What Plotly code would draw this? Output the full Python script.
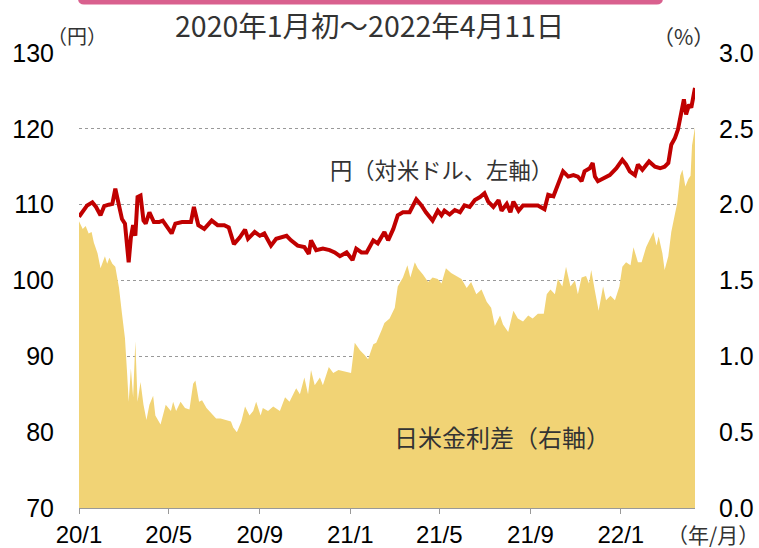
import plotly.graph_objects as go

# USD/JPY (left axis, yen)
fx_dates = [
    "2020-01-01", "2020-01-06", "2020-01-12", "2020-01-19", "2020-01-24", "2020-01-30",
    "2020-02-04", "2020-02-10", "2020-02-15", "2020-02-19", "2020-02-24", "2020-02-28",
    "2020-03-03", "2020-03-08", "2020-03-11", "2020-03-14", "2020-03-17", "2020-03-20",
    "2020-03-24", "2020-03-28", "2020-03-31", "2020-04-05", "2020-04-11", "2020-04-18",
    "2020-04-23", "2020-04-29", "2020-05-05", "2020-05-10", "2020-05-19", "2020-05-31",
    "2020-06-04", "2020-06-10", "2020-06-18", "2020-06-28", "2020-07-06", "2020-07-15",
    "2020-07-21", "2020-07-28", "2020-08-05", "2020-08-12", "2020-08-16", "2020-08-25",
    "2020-09-01", "2020-09-07", "2020-09-16", "2020-09-23", "2020-10-07", "2020-10-13",
    "2020-10-22", "2020-10-31", "2020-11-06", "2020-11-09", "2020-11-16", "2020-11-25",
    "2020-12-04", "2020-12-11", "2020-12-18", "2020-12-27", "2021-01-04", "2021-01-09",
    "2021-01-16", "2021-01-23", "2021-02-01", "2021-02-07", "2021-02-14", "2021-02-16",
    "2021-02-21", "2021-02-28", "2021-03-06", "2021-03-13", "2021-03-22", "2021-03-31",
    "2021-04-07", "2021-04-13", "2021-04-22", "2021-04-29", "2021-05-04", "2021-05-08",
    "2021-05-15", "2021-05-22", "2021-05-29", "2021-06-04", "2021-06-11", "2021-06-18",
    "2021-06-25", "2021-07-01", "2021-07-06", "2021-07-13", "2021-07-20", "2021-07-24",
    "2021-07-31", "2021-08-05", "2021-08-09", "2021-08-16", "2021-08-22", "2021-09-02",
    "2021-09-11", "2021-09-20", "2021-09-25", "2021-10-02", "2021-10-08", "2021-10-15",
    "2021-10-22", "2021-10-29", "2021-11-04", "2021-11-09", "2021-11-13", "2021-11-20",
    "2021-11-24", "2021-11-27", "2021-12-01", "2021-12-08", "2021-12-17", "2021-12-26",
    "2022-01-03", "2022-01-08", "2022-01-13", "2022-01-20", "2022-01-24", "2022-01-30",
    "2022-02-08", "2022-02-16", "2022-02-23", "2022-03-01", "2022-03-06", "2022-03-10",
    "2022-03-15", "2022-03-19", "2022-03-24", "2022-03-27", "2022-03-30", "2022-04-03",
    "2022-04-06", "2022-04-11",
]
fx_values = [
    108.4, 109.0, 109.9, 110.3, 109.7, 108.6,
    109.8, 110.0, 110.1, 112.1, 110.1, 108.1,
    107.5, 102.4, 105.7, 107.3, 105.9, 111.0,
    111.2, 107.9, 107.5, 109.0, 107.7, 107.7,
    107.9, 107.0, 106.2, 107.5, 107.7, 107.7,
    109.7, 107.3, 106.8, 107.9, 107.3, 107.3,
    107.0, 104.8, 105.7, 106.7, 105.5, 106.4,
    105.9, 106.2, 104.6, 105.5, 105.9, 105.3,
    104.6, 104.4, 103.5, 105.3, 104.0, 104.2,
    104.0, 103.7, 103.2, 103.7, 102.7, 104.2,
    103.7, 103.7, 105.3, 104.9, 105.9, 106.4,
    105.3, 106.8, 108.6, 109.0, 109.0, 110.7,
    109.9, 109.0, 107.9, 109.2, 108.6, 109.2,
    108.7, 109.3, 109.0, 109.9, 109.7, 110.6,
    111.0, 111.5, 110.4, 109.7, 110.6, 109.2,
    110.1, 109.0, 110.4, 109.2, 109.9, 109.9,
    109.9, 109.4, 111.3, 111.1, 112.8, 114.4,
    113.7, 113.9, 113.7, 113.1, 114.4, 114.8,
    115.5, 113.7, 113.1, 113.5, 113.9, 114.8,
    115.9, 115.3, 114.4, 113.9, 115.3, 114.6,
    115.7, 115.0, 114.8, 115.0, 115.5, 117.9,
    118.8, 119.9, 122.3, 123.9, 121.9, 123.2,
    122.8, 125.4,
]

# Japan-US interest rate differential (right axis, %)
spread_dates = [
    "2020-01-01", "2020-01-06", "2020-01-10", "2020-01-14", "2020-01-18", "2020-01-21",
    "2020-01-26", "2020-01-30", "2020-02-05", "2020-02-08", "2020-02-11", "2020-02-15",
    "2020-02-19", "2020-02-24", "2020-02-28", "2020-03-03", "2020-03-06", "2020-03-08",
    "2020-03-11", "2020-03-14", "2020-03-17", "2020-03-20", "2020-03-24", "2020-03-28",
    "2020-04-01", "2020-04-05", "2020-04-10", "2020-04-13", "2020-04-20", "2020-04-23",
    "2020-04-27", "2020-05-04", "2020-05-07", "2020-05-11", "2020-05-17", "2020-05-23",
    "2020-05-29", "2020-06-03", "2020-06-06", "2020-06-11", "2020-06-15", "2020-06-21",
    "2020-06-27", "2020-07-04", "2020-07-10", "2020-07-16", "2020-07-24", "2020-07-27",
    "2020-08-01", "2020-08-07", "2020-08-12", "2020-08-18", "2020-08-23", "2020-08-27",
    "2020-09-02", "2020-09-05", "2020-09-12", "2020-09-19", "2020-09-28", "2020-10-05",
    "2020-10-11", "2020-10-20", "2020-10-25", "2020-10-31", "2020-11-05", "2020-11-09",
    "2020-11-14", "2020-11-21", "2020-11-25", "2020-12-03", "2020-12-09", "2020-12-16",
    "2020-12-25", "2021-01-02", "2021-01-07", "2021-01-14", "2021-01-20", "2021-01-25",
    "2021-02-01", "2021-02-05", "2021-02-12", "2021-02-16", "2021-02-23", "2021-03-02",
    "2021-03-06", "2021-03-13", "2021-03-19", "2021-03-23", "2021-03-29", "2021-04-02",
    "2021-04-09", "2021-04-16", "2021-04-22", "2021-04-29", "2021-05-04", "2021-05-10",
    "2021-05-17", "2021-05-24", "2021-05-31", "2021-06-07", "2021-06-13", "2021-06-20",
    "2021-06-27", "2021-07-04", "2021-07-10", "2021-07-15", "2021-07-22", "2021-07-26",
    "2021-08-02", "2021-08-09", "2021-08-15", "2021-08-22", "2021-08-29", "2021-09-04",
    "2021-09-11", "2021-09-19", "2021-09-23", "2021-09-28", "2021-10-04", "2021-10-08",
    "2021-10-14", "2021-10-19", "2021-10-25", "2021-10-31", "2021-11-04", "2021-11-09",
    "2021-11-15", "2021-11-19", "2021-11-22", "2021-11-27", "2021-12-02", "2021-12-08",
    "2021-12-12", "2021-12-18", "2021-12-24", "2021-12-30", "2022-01-03", "2022-01-08",
    "2022-01-14", "2022-01-18", "2022-01-24", "2022-01-29", "2022-02-04", "2022-02-08",
    "2022-02-14", "2022-02-18", "2022-02-21", "2022-02-26", "2022-03-01", "2022-03-06",
    "2022-03-10", "2022-03-15", "2022-03-18", "2022-03-22", "2022-03-25", "2022-03-29",
    "2022-04-02", "2022-04-05", "2022-04-07", "2022-04-11",
]
spread_values = [
    1.89, 1.84, 1.86, 1.81, 1.82, 1.75,
    1.68, 1.58, 1.66, 1.61, 1.65, 1.61,
    1.59, 1.45, 1.28, 1.12, 0.88, 0.70,
    0.92, 0.73, 1.10, 0.70, 0.83, 0.68,
    0.58, 0.68, 0.74, 0.61, 0.55, 0.61,
    0.68, 0.64, 0.70, 0.64, 0.70, 0.66,
    0.65, 0.82, 0.84, 0.70, 0.71, 0.66,
    0.63, 0.59, 0.59, 0.58, 0.57, 0.53,
    0.50, 0.57, 0.67, 0.61, 0.64, 0.70,
    0.61, 0.66, 0.64, 0.67, 0.64, 0.73,
    0.70, 0.79, 0.75, 0.86, 0.75, 0.91,
    0.81, 0.86, 0.81, 0.93, 0.89, 0.91,
    0.90, 0.89, 1.09, 1.04, 1.01, 0.98,
    1.08, 1.09, 1.17, 1.22, 1.25, 1.32,
    1.46, 1.52, 1.60, 1.52, 1.62, 1.58,
    1.54, 1.49, 1.52, 1.51, 1.48, 1.58,
    1.55, 1.53, 1.51, 1.45, 1.49, 1.41,
    1.44, 1.36, 1.32, 1.20, 1.27, 1.21,
    1.16, 1.30, 1.25, 1.23, 1.27, 1.25,
    1.28, 1.28, 1.41, 1.44, 1.41, 1.51,
    1.46, 1.59, 1.46, 1.50, 1.41, 1.52,
    1.53, 1.48, 1.57, 1.43, 1.30, 1.46,
    1.37, 1.40, 1.37, 1.46, 1.59, 1.62,
    1.60, 1.72, 1.62, 1.62, 1.72, 1.76,
    1.82, 1.73, 1.79, 1.68, 1.57, 1.66,
    1.82, 1.94, 2.01, 2.19, 2.23, 2.12,
    2.17, 2.19, 2.39, 2.51,
]

tick_dates = ["2020-01-01", "2020-05-01", "2020-09-01", "2021-01-01",
              "2021-05-01", "2021-09-01", "2022-01-01"]
tick_labels = ["20/1", "20/5", "20/9", "21/1", "21/5", "21/9", "22/1"]
left_ticks = [70, 80, 90, 100, 110, 120, 130]
right_ticks = [0.0, 0.5, 1.0, 1.5, 2.0, 2.5, 3.0]

NUM_FONT = "Liberation Sans, Arial, sans-serif"
JP_FONT = "Noto Sans CJK JP, sans-serif"

fig = go.Figure()
fig.add_trace(go.Scatter(
    x=spread_dates, y=spread_values, yaxis="y2", mode="lines",
    line=dict(width=0, color="#F1D375"), fill="tozeroy", fillcolor="#F1D375",
    hoverinfo="skip", showlegend=False,
))
fig.add_trace(go.Scatter(
    x=fx_dates, y=fx_values, yaxis="y", mode="lines",
    line=dict(width=4, color="#C00000"), showlegend=False,
))

fig.update_layout(
    width=759, height=548,
    margin=dict(l=79, r=64, t=53, b=40, pad=0),
    paper_bgcolor="white", plot_bgcolor="white",
    xaxis=dict(
        type="date", range=["2020-01-01", "2022-04-11"],
        tickvals=tick_dates, ticktext=tick_labels,
        ticks="outside", ticklen=5, tickcolor="#999999", tickwidth=1,
        showline=True, linecolor="#999999", linewidth=1,
        showgrid=False, zeroline=False, automargin=False,
        tickfont=dict(family=NUM_FONT, size=24, color="black"),
        ticklabelstandoff=0,
    ),
    yaxis=dict(
        range=[70, 130], tickvals=left_ticks,
        showgrid=True, gridcolor="#999999", griddash="dot", gridwidth=1,
        zeroline=False, showline=False, ticks="", automargin=False,
        tickfont=dict(family=NUM_FONT, size=25, color="black"),
        ticklabelstandoff=24,
    ),
    yaxis2=dict(
        range=[0, 3], tickvals=right_ticks, tickformat=".1f",
        overlaying="y", side="right", showgrid=False, zeroline=False,
        showline=False, ticks="", automargin=False,
        tickfont=dict(family=NUM_FONT, size=25, color="black"),
        ticklabelstandoff=23,
    ),
    showlegend=False,
)

annos = [
    dict(text="2020年1月初～2022年4月11日", x=0.471, y=1.062, size=28.5),
    dict(text="（円）", x=-0.004, y=1.038, size=20),
    dict(text="（%）", x=0.982, y=1.038, size=21),
    dict(text="円（対米ドル、左軸）", x=0.588, y=0.745, size=22.3),
    dict(text="日米金利差（右軸）", x=0.687, y=0.158, size=24),
    dict(text="（年/月）", x=1.030, y=-0.058, size=21),
]
for a in annos:
    fig.add_annotation(
        text=a["text"], x=a["x"], y=a["y"], xref="paper", yref="paper",
        xanchor="center", yanchor="middle", showarrow=False,
        font=dict(family=JP_FONT, size=a["size"], color="#333333"),
    )

# pink banner edge at the very top
fig.add_shape(
    type="path", xref="paper", yref="paper",
    path="M -0.0016 1.2 L -0.0016 1.12 Q -0.0016 1.1067 0.008 1.1067 "
         "L 0.938 1.1067 Q 0.948 1.1067 0.948 1.12 L 0.948 1.2 Z",
    fillcolor="#D9608E", line=dict(width=0),
)

fig.write_html("out.html",
               config={"displayModeBar": False},
               post_script="document.body.style.margin='0px';")
